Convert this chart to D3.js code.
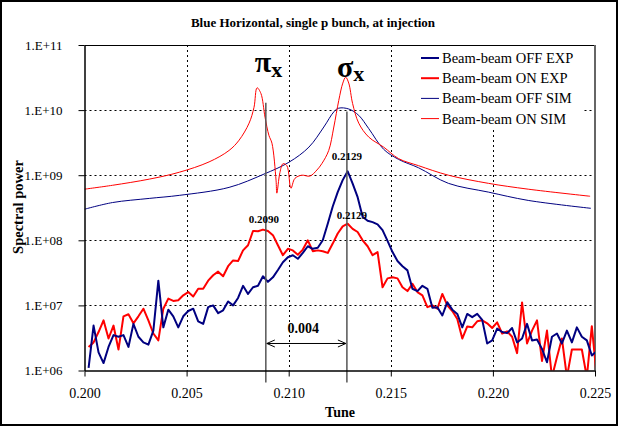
<!DOCTYPE html>
<html><head><meta charset="utf-8">
<script src="https://cdn.jsdelivr.net/npm/d3@7"></script>
<style>
body{margin:0;background:#fff}
svg{display:block}
text{font-family:"Liberation Serif","Times New Roman",serif;fill:#000}
</style>
</head><body>
<svg id="chart" width="618" height="426"></svg>
<script>
// ---------- data ----------
const titleText = "Blue Horizontal, single p bunch, at injection";
const xTickValues = [0.200, 0.205, 0.210, 0.215, 0.220, 0.225];
const xTickLabels = ["0.200", "0.205", "0.210", "0.215", "0.220", "0.225"];
const yTickValues = [1e6, 1e7, 1e8, 1e9, 1e10, 1e11];
const yTickLabels = ["1.E+06", "1.E+07", "1.E+08", "1.E+09", "1.E+10", "1.E+11"];
const seriesNames = ["Beam-beam OFF EXP", "Beam-beam ON EXP", "Beam-beam OFF SIM", "Beam-beam ON SIM"];

// simulated spectra (smooth)
const simOffTune = [0.2000, 0.20137, 0.20317, 0.20464, 0.20708, 0.20879, 0.21001, 0.21099, 0.21172, 0.21221,
  0.21245, 0.21294, 0.21343, 0.21392, 0.21465, 0.21538, 0.21636, 0.21782, 0.21978, 0.22173, 0.2248];
const simOffValue = [3.0e8, 3.8e8, 4.4e8, 4.9e8, 6.5e8, 1.04e9, 1.58e9, 2.7e9, 5.5e9, 9.4e9,
  1.07e10, 1.04e10, 8.3e9, 5.2e9, 2.5e9, 1.75e9, 1.3e9, 7.5e8, 5.5e8, 4.1e8, 3.1e8];

const simOnTune = [0.2000, 0.20137, 0.20317, 0.20464, 0.2061, 0.20708, 0.20757, 0.20806, 0.2083, 0.20845,
  0.20864, 0.20884, 0.20903, 0.20918, 0.20938, 0.20942, 0.20957, 0.20972, 0.20991, 0.21011,
  0.2103, 0.21064, 0.21104, 0.21138, 0.21162, 0.21196, 0.21221, 0.21245, 0.21265, 0.21279,
  0.21294, 0.21313, 0.21343, 0.21392, 0.21465, 0.21538, 0.21636, 0.21782, 0.21978, 0.22173, 0.22476];
const simOnValue = [6.1e8, 7.0e8, 8.7e8, 1.11e9, 1.6e9, 2.4e9, 3.45e9, 6.3e9, 1.1e10, 2.2e10,
  1.8e10, 7.8e9, 4.1e9, 3.1e9, 8.4e8, 5.3e8, 1.1e9, 1.5e9, 1.4e9, 6.3e8,
  8.9e8, 1.0e9, 9.7e8, 1.2e9, 1.5e9, 2.4e9, 5.5e9, 1.4e10, 2.6e10, 3.2e10,
  2.6e10, 1.26e10, 6.3e9, 3.85e9, 2.7e9, 1.8e9, 1.4e9, 1.0e9, 7.5e8, 6.1e8, 4.75e8];

// measured spectra (FFT bins)
const expTune = [
  0.200200, 0.200444, 0.200688, 0.200932, 0.201176, 0.201420, 0.201664, 0.201908, 0.202152, 0.202396,
  0.202640, 0.202884, 0.203128, 0.203372, 0.203616, 0.203860, 0.204104, 0.204348, 0.204592, 0.204836,
  0.205080, 0.205324, 0.205568, 0.205812, 0.206056, 0.206300, 0.206544, 0.206788, 0.207032, 0.207276,
  0.207520, 0.207764, 0.208008, 0.208252, 0.208496, 0.208740, 0.208984, 0.209228, 0.209472, 0.209716,
  0.209960, 0.210204, 0.210448, 0.210692, 0.210936, 0.211180, 0.211424, 0.211668, 0.211912, 0.212156,
  0.212400, 0.212644, 0.212888, 0.213132, 0.213376, 0.213620, 0.213864, 0.214108, 0.214352, 0.214596,
  0.214840, 0.215084, 0.215328, 0.215572, 0.215816, 0.216060, 0.216304, 0.216548, 0.216792, 0.217036,
  0.217280, 0.217524, 0.217768, 0.218012, 0.218256, 0.218500, 0.218744, 0.218988, 0.219232, 0.219476,
  0.219720, 0.219964, 0.220208, 0.220452, 0.220696, 0.220940, 0.221184, 0.221428, 0.221672, 0.221916,
  0.222160, 0.222404, 0.222648, 0.222892, 0.223136, 0.223380, 0.223624, 0.223868, 0.224112, 0.224356,
  0.224600, 0.224844, 0.225088];
const expOffValue = [
  1.1e6, 4.9e6, 1.9e6, 1.3e6, 2.3e6, 3.5e6, 3.3e6, 3.5e6, 2.3e6, 5.2e6,
  3.3e6, 2.7e6, 2.5e6, 4.1e6, 2.4e7, 4.6e6, 8.6e6, 6.8e6, 4.6e6, 6.8e6,
  8.2e6, 8.9e6, 5.7e6, 5.2e6, 9.4e6, 1.0e7, 7.6e6, 8.4e6, 1.15e7, 1.0e7,
  1.3e7, 2.0e7, 1.5e7, 1.9e7, 2.0e7, 2.8e7, 2.3e7, 2.7e7, 3.5e7, 4.6e7,
  5.5e7, 5.9e7, 5.2e7, 6.4e7, 8.1e7, 7.4e7, 7.7e7, 1.0e8, 1.8e8, 3.3e8,
  5.5e8, 8.4e8, 1.15e9, 7.4e8, 4.6e8, 2.3e8, 2.0e8, 1.9e8, 1.76e8, 1.43e8,
  9.8e7, 6.6e7, 4.8e7, 4.0e7, 3.45e7, 1.8e7, 1.66e7, 2.0e7, 1.8e7, 9.2e6,
  9.4e6, 7.0e6, 1.12e7, 8.6e6, 7.4e6, 4.6e6, 7.4e6, 6.6e6, 7.4e6, 6.0e6,
  2.6e6, 2.9e6, 4.4e6, 3.9e6, 3.75e6, 4.5e6, 2.7e6, 3.1e6, 5.2e6, 2.9e6,
  3.0e6, 2.15e6, 1.34e6, 3.3e6, 3.7e6, 2.6e6, 4.1e6, 2.7e6, 4.6e6, 3.3e6,
  2.9e6, 1.7e6, 2.0e6];
const expOnValue = [
  2.3e6, 2.7e6, 3.9e6, 5.9e6, 3.1e6, 4.9e6, 2.1e6, 6.8e6, 7.3e6, 5.3e6,
  6.8e6, 8.9e6, 5.9e6, 3.7e6, 2.9e6, 8.9e6, 1.27e7, 1.17e7, 1.2e7, 1.43e7,
  1.6e7, 1.37e7, 1.8e7, 1.8e7, 2.4e7, 2.9e7, 3.3e7, 2.8e7, 4.0e7, 4.9e7,
  4.8e7, 7.0e7, 8.4e7, 1.39e8, 1.38e8, 1.46e8, 1.39e8, 1.2e8, 8.4e7, 5.9e7,
  7.4e7, 7.0e7, 6.0e7, 7.2e7, 1.0e8, 6.8e7, 7.0e7, 6.8e7, 6.4e7, 8.9e7,
  1.27e8, 1.64e8, 1.8e8, 1.5e8, 1.34e8, 1.0e8, 8.1e7, 5.9e7, 6.6e7, 1.9e7,
  2.6e7, 2.7e7, 2.6e7, 1.9e7, 1.66e7, 2.15e7, 1.6e7, 1.43e7, 9.4e6, 1.0e7,
  8.9e6, 1.5e7, 1.0e7, 8.2e6, 6.2e6, 3.1e6, 4.75e6, 4.6e6, 5.7e6, 5.9e6,
  5.3e6, 4.5e6, 5.5e6, 3.7e6, 4.0e6, 3.3e6, 1.85e6, 1.11e7, 2.6e6, 4.1e6,
  5.9e6, 1.4e6, 4.1e6, 7.9e5, 1.6e6, 3.1e6, 7.9e5, 2.1e6, 2.1e6, 2.1e6,
  7.9e5, 4.8e6, 7.9e5];

// annotations
const piTune = 0.20888, sigmaTune = 0.21285;
const piLabel = "0.2090", sigmaLabel = "0.2129";
const piLineTop = 1.3e10, sigmaLineTop = 9.5e9;
const offPeakValue = 1.15e9, onPeakValue = 1.8e8, onPiValue = 1.4e8;
const spacingLabel = "0.004", arrowValue = 2.6e6;

// ---------- layout ----------
const W = 618, H = 426;
const L = 84.5, R = 595, T = 45, B = 370.5;
const svg = d3.select("#chart");
const x = d3.scaleLinear().domain([0.2, 0.225]).range([L, R]);
const y = d3.scaleLog().domain([1e6, 1e11]).range([B, T]);

const navy = "#000080", red = "#ff0000";

// outer frame
svg.append("rect").attr("x", 1).attr("y", 1).attr("width", W - 2).attr("height", H - 2)
  .attr("fill", "#fff").attr("stroke", "#000").attr("stroke-width", 2);

// clip
svg.append("clipPath").attr("id", "clip").append("rect")
  .attr("x", L).attr("y", T).attr("width", R - L).attr("height", B - T);

// grid
const grid = svg.append("g").attr("stroke", "#000").attr("stroke-width", 1).attr("stroke-dasharray", "2,3");
grid.selectAll("line.v").data(xTickValues.slice(1, -1)).join("line")
  .attr("x1", d => Math.round(x(d)) + 0.5).attr("x2", d => Math.round(x(d)) + 0.5)
  .attr("y1", T).attr("y2", B);
grid.selectAll("line.h").data(yTickValues.slice(1, -1)).join("line")
  .attr("y1", d => Math.round(y(d)) + 0.5).attr("y2", d => Math.round(y(d)) + 0.5)
  .attr("x1", L).attr("x2", R);

// plot border (top + right)
svg.append("line").attr("x1", L).attr("x2", R).attr("y1", T + 0.5).attr("y2", T + 0.5)
  .attr("stroke", "#000").attr("stroke-width", 1);
svg.append("line").attr("x1", R).attr("x2", R).attr("y1", T).attr("y2", B)
  .attr("stroke", "#666").attr("stroke-width", 2);

// lines
const plot = svg.append("g").attr("clip-path", "url(#clip)");
const simLine = d3.line().x(d => x(d[0])).y(d => y(d[1])).curve(d3.curveCatmullRom.alpha(0.5));
const expLine = d3.line().x(d => x(d[0])).y(d => y(d[1]));

plot.append("path").datum(d3.zip(simOffTune, simOffValue)).attr("d", simLine)
  .attr("fill", "none").attr("stroke", navy).attr("stroke-width", 1);
plot.append("path").datum(d3.zip(simOnTune, simOnValue)).attr("d", simLine)
  .attr("fill", "none").attr("stroke", red).attr("stroke-width", 1);
plot.append("path").datum(d3.zip(expTune, expOnValue)).attr("d", expLine)
  .attr("fill", "none").attr("stroke", red).attr("stroke-width", 2).attr("stroke-linejoin", "round");
plot.append("path").datum(d3.zip(expTune, expOffValue)).attr("d", expLine)
  .attr("fill", "none").attr("stroke", navy).attr("stroke-width", 2).attr("stroke-linejoin", "round");

// annotation vertical lines
const ann = svg.append("g").attr("stroke", "#555").attr("stroke-width", 1.5);
ann.append("line").attr("x1", x(piTune)).attr("x2", x(piTune)).attr("y1", y(piLineTop)).attr("y2", B + 12);
ann.append("line").attr("x1", x(sigmaTune)).attr("x2", x(sigmaTune)).attr("y1", y(sigmaLineTop)).attr("y2", B + 12);

// axes
const yAxis = d3.axisLeft(y).tickValues(yTickValues).tickFormat((d, i) => yTickLabels[i])
  .tickSize(6).tickSizeOuter(0).tickPadding(16);
const gy = svg.append("g").attr("transform", `translate(${L},0)`).call(yAxis);
gy.select(".domain").attr("stroke", "#000").attr("stroke-width", 1.5);
gy.selectAll(".tick line").attr("stroke", "#000");
gy.selectAll("text").attr("font-size", 13).attr("font-family", "Liberation Serif, serif").attr("fill", "#000");

const xAxis = d3.axisBottom(x).tickValues(xTickValues).tickFormat((d, i) => xTickLabels[i])
  .tickSize(6).tickSizeOuter(0).tickPadding(12);
const gx = svg.append("g").attr("transform", `translate(0,${B})`).call(xAxis);
gx.select(".domain").attr("stroke", "#000").attr("stroke-width", 1.5);
gx.selectAll(".tick line").attr("stroke", "#000");
gx.selectAll("text").attr("font-size", 14).attr("font-family", "Liberation Serif, serif").attr("fill", "#000");

// arrow
const ax1 = x(piTune), ax2 = x(sigmaTune), ay = y(arrowValue);
const ar = svg.append("g").attr("stroke", "#000").attr("stroke-width", 1).attr("fill", "none");
ar.append("line").attr("x1", ax1 + 1).attr("x2", ax2 - 1).attr("y1", ay).attr("y2", ay);
ar.append("path").attr("d", `M${ax1 + 9},${ay - 3.5}L${ax1 + 1},${ay}L${ax1 + 9},${ay + 3.5}`);
ar.append("path").attr("d", `M${ax2 - 9},${ay - 3.5}L${ax2 - 1},${ay}L${ax2 - 9},${ay + 3.5}`);
svg.append("text").attr("x", (ax1 + ax2) / 2 - 3).attr("y", ay - 10).attr("text-anchor", "middle")
  .attr("font-size", 14).attr("font-weight", "bold").text(spacingLabel);

// peak labels
svg.append("text").attr("x", x(piTune) - 2).attr("y", y(onPiValue) - 8).attr("text-anchor", "middle")
  .attr("font-size", 11).attr("font-weight", "bold").text(piLabel);
svg.append("text").attr("x", x(sigmaTune)).attr("y", y(offPeakValue) - 11).attr("text-anchor", "middle")
  .attr("font-size", 11).attr("font-weight", "bold").text(sigmaLabel);
svg.append("text").attr("x", x(sigmaTune) + 5).attr("y", y(onPeakValue) - 5).attr("text-anchor", "middle")
  .attr("font-size", 11).attr("font-weight", "bold").text(sigmaLabel);

// greek mode labels
const piT = svg.append("text").attr("x", x(piTune) - 11).attr("y", 72).attr("font-weight", "bold");
piT.append("tspan").attr("font-size", 30).text("π");
piT.append("tspan").attr("font-size", 22).attr("dy", 5).text("x");
const sgT = svg.append("text").attr("x", x(sigmaTune) - 10).attr("y", 77).attr("font-weight", "bold");
sgT.append("tspan").attr("font-size", 30).text("σ");
sgT.append("tspan").attr("font-size", 22).attr("dy", 4).text("x");

// titles
svg.append("text").attr("x", 313).attr("y", 27).attr("text-anchor", "middle")
  .attr("font-size", 13).attr("font-weight", "bold").text(titleText);
svg.append("text").attr("x", 340).attr("y", 417).attr("text-anchor", "middle")
  .attr("font-size", 14).attr("font-weight", "bold").text("Tune");
svg.append("text").attr("transform", "translate(23,207) rotate(-90)").attr("text-anchor", "middle")
  .attr("font-size", 14.5).attr("font-weight", "bold").text("Spectral power");

// legend
const lg = svg.append("g");
lg.append("rect").attr("x", 419).attr("y", 46).attr("width", 164).attr("height", 84).attr("fill", "#fff");
const legendColors = [navy, red, navy, red];
const legendWidths = [2, 2, 1, 1];
seriesNames.forEach((name, i) => {
  const cy = 58 + i * 20.2;
  lg.append("line").attr("x1", 421).attr("x2", 439).attr("y1", cy).attr("y2", cy)
    .attr("stroke", legendColors[i]).attr("stroke-width", legendWidths[i]);
  lg.append("text").attr("x", 442).attr("y", cy + 5).attr("font-size", 14.5).text(name);
});
</script>
</body></html>
